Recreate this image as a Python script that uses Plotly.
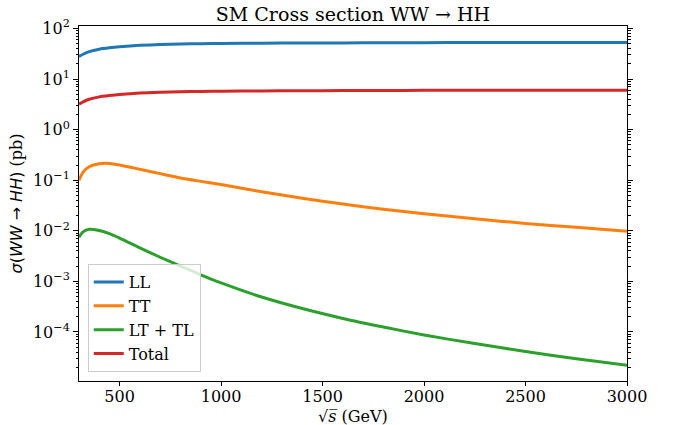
import plotly.graph_objects as go

# centre-of-mass energy sqrt(s) in GeV
energy = [300, 320, 350, 400, 450, 500, 600, 700, 800, 900, 1000, 1200, 1400,
          1600, 1800, 2000, 2250, 2500, 2750, 3000]

# cross sections in pb for each polarisation channel
sigma_ll = [28.0, 31.0, 35.0, 39.0, 41.5, 43.5, 46.5, 48.3, 49.5, 50.2, 50.7,
            51.3, 51.7, 52.0, 52.3, 52.6, 52.8, 53.0, 53.1, 53.2]
sigma_tt = [0.100, 0.145, 0.185, 0.212, 0.214, 0.200, 0.165, 0.135, 0.111,
            0.095, 0.082, 0.059, 0.0442, 0.0338, 0.0268, 0.0217, 0.0173,
            0.0140, 0.0117, 0.0098]
sigma_lt = [0.0075, 0.0095, 0.0107, 0.0101, 0.0088, 0.0072, 0.0046, 0.0030,
            0.0020, 0.00135, 0.00093, 0.00049, 0.00029, 0.000185, 0.000125,
            0.000087, 0.000059, 0.000041, 0.0000295, 0.000022]
sigma_total = [3.2, 3.55, 4.0, 4.45, 4.72, 4.95, 5.3, 5.5, 5.63, 5.71, 5.77,
               5.84, 5.89, 5.93, 5.96, 5.99, 6.01, 6.03, 6.04, 6.05]

series_names = ["LL", "TT", "LT + TL", "Total"]
series_values = [sigma_ll, sigma_tt, sigma_lt, sigma_total]
series_colors = ["#1f77b4", "#ff7f0e", "#2ca02c", "#d62728"]

x_ticks = [500, 1000, 1500, 2000, 2500, 3000]
y_ticks = [1e-4, 1e-3, 1e-2, 1e-1, 1e0, 1e1, 1e2]
y_tick_text = ["10<sup>−4</sup>", "10<sup>−3</sup>", "10<sup>−2</sup>",
               "10<sup>−1</sup>", "10<sup>0</sup>", "10<sup>1</sup>",
               "10<sup>2</sup>"]
decades = [1e-5, 1e-4, 1e-3, 1e-2, 1e-1, 1e0, 1e1, 1e2]
minor_digits = [2, 3, 4, 5, 6, 7, 8, 9]

SERIF = "DejaVu Serif"

fig = go.Figure()
for name, vals, col in zip(series_names, series_values, series_colors):
    fig.add_trace(go.Scatter(
        x=energy, y=vals, name=name, mode="lines",
        line=dict(color=col, width=3, shape="spline", smoothing=0.6),
    ))

fig.update_layout(
    width=673, height=425,
    margin=dict(l=79, r=46, t=26, b=44, autoexpand=False),
    paper_bgcolor="white", plot_bgcolor="white",
    font=dict(family=SERIF, size=16, color="black"),
    title=dict(
        text="SM Cross section WW → HH",
        x=(79 + 627) / 2 / 673, xanchor="center", xref="container",
        y=1 - 14.5 / 425, yanchor="middle", yref="container",
        font=dict(family=SERIF, size=19, color="black"),
    ),
    legend=dict(
        x=0.016, y=0.025, xanchor="left", yanchor="bottom",
        bgcolor="rgba(255,255,255,0.8)", bordercolor="#cccccc", borderwidth=1,
        font=dict(family=SERIF, size=16, color="black"),
        tracegroupgap=0, itemwidth=30,
    ),
    showlegend=True,
)

# x-axis label placed beneath the tick labels
fig.add_annotation(
    text="√<i>s\u0305</i> (GeV)",
    xref="paper", yref="paper", x=0.5, y=-35 / 355,
    xanchor="center", yanchor="middle", showarrow=False,
    font=dict(family=SERIF, size=16, color="black"),
)

fig.update_xaxes(
    range=[300, 3000], tickvals=x_ticks,
    showgrid=False, zeroline=False, automargin=False,
    showline=True, linecolor="black", linewidth=1, mirror=True,
    ticks="outside", ticklen=4, tickwidth=1, tickcolor="black",
    ticklabelstandoff=-3,
    tickfont=dict(family=SERIF, size=16),
)

fig.update_yaxes(
    type="log", range=[-4.97, 2.05],
    tickvals=y_ticks, ticktext=y_tick_text,
    showgrid=False, zeroline=False, automargin=False,
    showline=True, linecolor="black", linewidth=1, mirror="allticks",
    ticks="outside", ticklen=5, tickwidth=1, tickcolor="black",
    tickfont=dict(family=SERIF, size=16),
    minor=dict(ticks="outside", ticklen=2.5, tickwidth=1, tickcolor="black",
               tickvals=[d * m for d in decades for m in minor_digits],
               showgrid=False),
    title=dict(
        text="<span style='font-family:DejaVu Sans'><i>σ</i>(<i>WW</i> → <i>HH</i>)</span> (pb)",
        font=dict(family=SERIF, size=16), standoff=6,
    ),
)

fig.write_html("out.html")
